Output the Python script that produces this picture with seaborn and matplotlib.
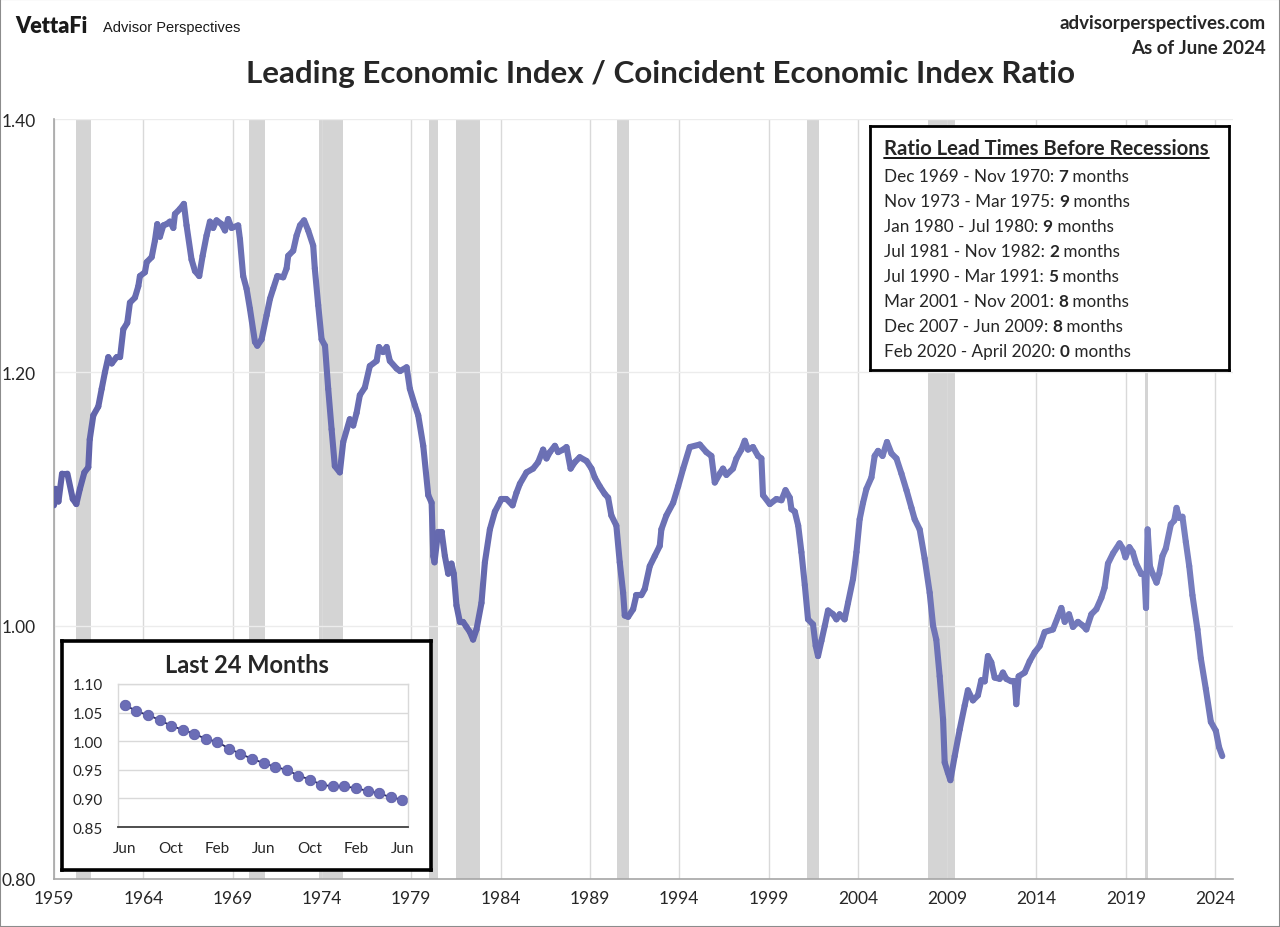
import numpy as np
import pandas as pd
import matplotlib
matplotlib.use("Agg")
import matplotlib.pyplot as plt
import seaborn as sns
from matplotlib.collections import LineCollection
from matplotlib.colors import to_rgb
from matplotlib.patches import Rectangle

# ratio LEI / CEI (decimal year, value)
years = [
    1959.00, 1959.10, 1959.25, 1959.45, 1959.75, 1960.05, 1960.25, 1960.45, 1960.70, 1960.92,
    1961.00, 1961.20, 1961.48, 1961.67, 1961.85, 1962.04, 1962.23, 1962.50, 1962.70, 1962.88,
    1963.10, 1963.25, 1963.53, 1963.72, 1963.81, 1964.09, 1964.19, 1964.47, 1964.65, 1964.78,
    1964.93, 1965.12, 1965.30, 1965.49, 1965.68, 1965.77, 1966.05, 1966.27, 1966.42, 1966.70,
    1966.89, 1967.13, 1967.32, 1967.54, 1967.73, 1967.91, 1968.10, 1968.38, 1968.57, 1968.75,
    1968.94, 1969.31, 1969.41, 1969.59, 1969.78, 1969.97, 1970.25, 1970.38, 1970.62, 1970.90,
    1971.09, 1971.27, 1971.50, 1971.83, 1972.02, 1972.11, 1972.39, 1972.58, 1972.77, 1973.00,
    1973.23, 1973.51, 1973.60, 1973.79, 1973.98, 1974.17, 1974.35, 1974.54, 1974.72, 1975.00,
    1975.19, 1975.56, 1975.75, 1975.94, 1976.12, 1976.40, 1976.68, 1977.06, 1977.19, 1977.42,
    1977.62, 1977.80, 1978.18, 1978.37, 1978.74, 1978.92, 1979.20, 1979.39, 1979.67, 1979.95,
    1980.14, 1980.23, 1980.30, 1980.50, 1980.70, 1980.88, 1981.07, 1981.25, 1981.38, 1981.53,
    1981.72, 1981.90, 1982.09, 1982.28, 1982.46, 1982.65, 1982.93, 1983.12, 1983.40, 1983.68,
    1984.05, 1984.33, 1984.67, 1984.89, 1985.08, 1985.45, 1985.82, 1986.10, 1986.38, 1986.57,
    1986.76, 1987.04, 1987.22, 1987.50, 1987.69, 1987.92, 1988.15, 1988.43, 1988.81, 1989.09,
    1989.27, 1989.55, 1989.83, 1990.02, 1990.20, 1990.48, 1990.67, 1990.86, 1990.95, 1991.14,
    1991.42, 1991.60, 1991.88, 1992.07, 1992.35, 1992.63, 1992.91, 1993.00, 1993.28, 1993.66,
    1993.94, 1994.22, 1994.59, 1995.15, 1995.52, 1995.80, 1995.99, 1996.27, 1996.45, 1996.64,
    1997.01, 1997.20, 1997.48, 1997.67, 1997.85, 1998.13, 1998.41, 1998.60, 1998.69, 1999.07,
    1999.44, 1999.72, 1999.95, 2000.19, 2000.28, 2000.47, 2000.66, 2000.84, 2001.03, 2001.21,
    2001.49, 2001.64, 2001.77, 2001.96, 2002.15, 2002.33, 2002.61, 2002.80, 2002.98, 2003.26,
    2003.45, 2003.73, 2003.92, 2004.10, 2004.29, 2004.48, 2004.76, 2004.94, 2005.13, 2005.38,
    2005.63, 2005.88, 2006.16, 2006.44, 2006.72, 2007.00, 2007.18, 2007.46, 2007.74, 2008.02,
    2008.21, 2008.39, 2008.58, 2008.77, 2008.86, 2009.04, 2009.18, 2009.42, 2009.70, 2009.98,
    2010.16, 2010.44, 2010.72, 2010.91, 2011.10, 2011.28, 2011.47, 2011.66, 2011.94, 2012.12,
    2012.31, 2012.59, 2012.78, 2012.87, 2013.00, 2013.34, 2013.62, 2013.90, 2014.18, 2014.46,
    2014.92, 2015.20, 2015.39, 2015.58, 2015.82, 2016.04, 2016.32, 2016.60, 2016.79, 2017.07,
    2017.35, 2017.63, 2017.81, 2018.00, 2018.28, 2018.65, 2018.83, 2018.98, 2019.20, 2019.39,
    2019.58, 2019.86, 2020.04, 2020.13, 2020.22, 2020.35, 2020.50, 2020.72, 2020.87, 2021.05,
    2021.24, 2021.52, 2021.71, 2021.84, 2021.99, 2022.17, 2022.36, 2022.55, 2022.73, 2023.01,
    2023.20, 2023.48, 2023.76, 2024.04, 2024.22, 2024.40,
]
ratio = [
    1.095, 1.108, 1.098, 1.120, 1.120, 1.100, 1.096, 1.108, 1.121, 1.125,
    1.147, 1.166, 1.173, 1.187, 1.200, 1.212, 1.207, 1.212, 1.212, 1.234,
    1.239, 1.255, 1.259, 1.268, 1.276, 1.279, 1.287, 1.291, 1.304, 1.317,
    1.307, 1.316, 1.317, 1.319, 1.314, 1.325, 1.329, 1.333, 1.316, 1.289,
    1.280, 1.276, 1.292, 1.308, 1.319, 1.314, 1.320, 1.317, 1.312, 1.321,
    1.314, 1.316, 1.305, 1.276, 1.266, 1.250, 1.224, 1.221, 1.226, 1.245,
    1.258, 1.266, 1.276, 1.275, 1.282, 1.292, 1.296, 1.308, 1.316, 1.320,
    1.312, 1.300, 1.282, 1.253, 1.226, 1.221, 1.187, 1.155, 1.126, 1.121,
    1.145, 1.163, 1.158, 1.168, 1.182, 1.188, 1.205, 1.209, 1.220, 1.216,
    1.220, 1.209, 1.203, 1.201, 1.204, 1.187, 1.174, 1.166, 1.142, 1.103,
    1.097, 1.055, 1.050, 1.074, 1.074, 1.055, 1.041, 1.049, 1.041, 1.016,
    1.003, 1.003, 0.999, 0.995, 0.989, 0.997, 1.018, 1.050, 1.076, 1.090,
    1.100, 1.100, 1.095, 1.105, 1.112, 1.121, 1.124, 1.129, 1.139, 1.132,
    1.137, 1.142, 1.137, 1.139, 1.141, 1.124, 1.129, 1.133, 1.130, 1.124,
    1.117, 1.110, 1.104, 1.101, 1.087, 1.079, 1.050, 1.026, 1.008, 1.007,
    1.013, 1.024, 1.024, 1.029, 1.047, 1.055, 1.063, 1.076, 1.087, 1.097,
    1.110, 1.124, 1.141, 1.143, 1.137, 1.134, 1.113, 1.120, 1.124, 1.119,
    1.124, 1.132, 1.139, 1.146, 1.139, 1.141, 1.134, 1.132, 1.103, 1.096,
    1.100, 1.099, 1.107, 1.101, 1.092, 1.090, 1.079, 1.058, 1.032, 1.005,
    1.001, 0.984, 0.976, 0.988, 1.000, 1.012, 1.009, 1.005, 1.009, 1.005,
    1.018, 1.037, 1.058, 1.084, 1.097, 1.108, 1.117, 1.134, 1.138, 1.134,
    1.145, 1.136, 1.132, 1.120, 1.107, 1.093, 1.084, 1.076, 1.053, 1.026,
    1.000, 0.989, 0.960, 0.926, 0.892, 0.884, 0.878, 0.897, 0.918, 0.937,
    0.949, 0.941, 0.945, 0.957, 0.956, 0.976, 0.971, 0.959, 0.958, 0.963,
    0.958, 0.956, 0.956, 0.938, 0.960, 0.963, 0.972, 0.979, 0.984, 0.995,
    0.997, 1.007, 1.014, 1.003, 1.009, 0.999, 1.003, 1.000, 0.997, 1.009,
    1.013, 1.022, 1.030, 1.049, 1.057, 1.065, 1.061, 1.054, 1.062, 1.058,
    1.049, 1.041, 1.041, 1.014, 1.076, 1.047, 1.041, 1.034, 1.041, 1.055,
    1.061, 1.080, 1.083, 1.093, 1.085, 1.086, 1.066, 1.047, 1.024, 0.997,
    0.974, 0.950, 0.924, 0.917, 0.904, 0.897,
]

# recessions (decimal year start / end)
rec_start = [1960.25, 1969.92, 1973.83, 1980.00, 1981.50, 1990.50, 2001.17, 2007.92, 2020.08]
rec_end = [1961.08, 1970.83, 1975.17, 1980.50, 1982.83, 1991.17, 2001.83, 2009.42, 2020.25]

year_ticks = list(range(1959, 2025, 5))
y_ticks = [0.80, 1.00, 1.20, 1.40]

# last 24 months inset
months_24 = ["Jun", "Jul", "Aug", "Sep", "Oct", "Nov", "Dec", "Jan", "Feb", "Mar", "Apr", "May",
             "Jun", "Jul", "Aug", "Sep", "Oct", "Nov", "Dec", "Jan", "Feb", "Mar", "Apr", "May", "Jun"]
values_24 = [1.064, 1.052, 1.046, 1.037, 1.027, 1.020, 1.013, 1.004, 0.999, 0.987, 0.978, 0.969,
             0.962, 0.955, 0.950, 0.940, 0.933, 0.924, 0.921, 0.921, 0.918, 0.913, 0.909, 0.902, 0.898]
inset_yticks = [0.85, 0.90, 0.95, 1.00, 1.05, 1.10]

rec_periods = ["Dec 1969 - Nov 1970: ", "Nov 1973 - Mar 1975: ", "Jan 1980 - Jul 1980: ",
               "Jul 1981 - Nov 1982: ", "Jul 1990 - Mar 1991: ", "Mar 2001 - Nov 2001: ",
               "Dec 2007 - Jun 2009: ", "Feb 2020 - April 2020: "]
lead_months = [7, 9, 9, 2, 5, 8, 8, 0]

sns.set_theme(style="white")
plt.rcParams['font.family'] = ['Lato', 'DejaVu Sans']

W, H = 1280, 928
fig = plt.figure(figsize=(12.8, 9.28), dpi=100)


def box(x0, y0, x1, y1):
    return [x0 / W, 1 - y1 / H, (x1 - x0) / W, (y1 - y0) / H]


def fxy(x, y):
    return x / W, 1 - y / H


# main chart
ax = fig.add_axes(box(54, 120, 1233, 880))
for s, e in zip(rec_start, rec_end):
    ax.axvspan(s, e, color="#d4d4d4", lw=0, zorder=0.3)

df = pd.DataFrame({"year": years, "ratio": ratio})
sns.lineplot(data=df, x="year", y="ratio", ax=ax, color="#6a6db4", lw=4.4)
line = ax.lines[-1]
xy = line.get_xydata()
line.remove()
# gradient along the line, darker at lower left, lighter at upper right
segs = np.stack([xy[:-1], xy[1:]], axis=1)
mid = (xy[:-1] + xy[1:]) / 2
tx = (mid[:, 0] - 1959) / 66
ty = (mid[:, 1] - 0.8) / 0.6
t = np.clip(0.55 * tx + 0.55 * ty, 0, 1)[:, None]
c0 = np.array(to_rgb("#50509b"))
c1 = np.array(to_rgb("#838cca"))
lc = LineCollection(segs, colors=c0 * (1 - t) + c1 * t, lw=4.4,
                    capstyle="round", joinstyle="round", zorder=3)
ax.add_collection(lc)

ax.set_xlim(1959, 2025)
ax.set_ylim(0.80, 1.40)
ax.set_xticks(year_ticks)
ax.set_xticklabels([str(y) for y in year_ticks], fontsize=12.5)
ax.set_yticks(y_ticks)
ax.set_yticklabels([f"{v:.2f}" for v in y_ticks], fontsize=12.5)
ax.tick_params(axis="y", length=0, pad=13)
ax.tick_params(axis="x", length=0, pad=8)
ax.set_xlabel("")
ax.set_ylabel("")
ax.xaxis.grid(True, color="#d9d9d9", lw=1)
ax.yaxis.grid(True, color="#ececec", lw=1)
ax.set_axisbelow(True)
for side in ["top", "right"]:
    ax.spines[side].set_visible(False)
for side in ["left", "bottom"]:
    ax.spines[side].set_color("#a6a6a6")
    ax.spines[side].set_linewidth(1.2)

# header texts
fig.text(*fxy(15, 33), "VettaFi", fontsize=15.5, fontweight="heavy", color="#1a1a1a")
fig.text(*fxy(103, 32), "Advisor Perspectives", fontsize=10.5, family="Liberation Sans", color="#1a1a1a")
fig.text(*fxy(1266, 29), "advisorperspectives.com", fontsize=13.5, fontweight="bold", ha="right")
fig.text(*fxy(1266, 54), "As of June 2024", fontsize=13.5, fontweight="bold", ha="right")
fig.text(*fxy(660, 83), "Leading Economic Index / Coincident Economic Index Ratio",
         fontsize=22.6, fontweight="bold", ha="center", va="baseline")

# lead time box
tb = fig.add_axes(box(870, 127, 1229, 371), zorder=5)
tb.set_facecolor("white")
tb.set_xticks([])
tb.set_yticks([])
for sp in tb.spines.values():
    sp.set_color("black")
    sp.set_linewidth(2)

renderer = fig.canvas.get_renderer()
head = fig.text(*fxy(884, 155), "Ratio Lead Times Before Recessions", fontsize=14.6,
                fontweight="bold", va="baseline", zorder=6)
bb = head.get_window_extent(renderer)
fig.add_artist(plt.Line2D([bb.x0 / W, bb.x1 / W], [1 - 158.5 / H, 1 - 158.5 / H],
                          color="black", lw=1.3, zorder=6))
for i, (per, m) in enumerate(zip(rec_periods, lead_months)):
    yb = 181.7 + 25 * i
    t1 = fig.text(*fxy(884, yb), per, fontsize=12.3, va="baseline", zorder=6)
    x1 = t1.get_window_extent(renderer).x1
    t2 = fig.text(x1 / W, 1 - yb / H, str(m), fontsize=12.3, fontweight="bold", va="baseline", zorder=6)
    x2 = t2.get_window_extent(renderer).x1
    fig.text(x2 / W, 1 - yb / H, " months", fontsize=12.3, va="baseline", zorder=6)

# inset frame
frame = fig.add_axes(box(62, 642, 431, 871), zorder=5)
frame.set_facecolor("white")
frame.set_xticks([])
frame.set_yticks([])
for sp in frame.spines.values():
    sp.set_color("black")
    sp.set_linewidth(2.6)
fig.text(*fxy(247, 673), "Last 24 Months", fontsize=17, fontweight="bold",
         ha="center", va="baseline", zorder=7)

axi = fig.add_axes(box(118, 685, 408, 828), zorder=6)
idx = list(range(len(values_24)))
sns.lineplot(x=idx, y=values_24, ax=axi, color="#262660", lw=1.3, marker="o",
             markersize=7.5, markerfacecolor="#6b6db6", markeredgecolor="#5c5ea8",
             markeredgewidth=0.6)
axi.set_xlim(-0.6, 24.5)
axi.set_ylim(0.85, 1.10)
axi.set_yticks(inset_yticks)
axi.set_yticklabels([f"{v:.2f}" for v in inset_yticks], fontsize=11)
axi.set_xticks(idx[::4])
axi.set_xticklabels(months_24[::4], fontsize=11)
axi.tick_params(length=0)
axi.tick_params(axis="y", pad=11)
axi.tick_params(axis="x", pad=10)
axi.yaxis.grid(True, color="#d9d9d9", lw=1)
axi.set_axisbelow(True)
for side in ["top", "right", "left"]:
    axi.spines[side].set_color("#d9d9d9")
    axi.spines[side].set_linewidth(1)
axi.spines["bottom"].set_color("#404040")
axi.spines["bottom"].set_linewidth(1.3)

fig.patches.append(Rectangle((0, 0), 1, 1, transform=fig.transFigure, fill=False,
                             ec="#8c8c8c", lw=1.5))

fig.savefig("out.png", dpi=100)
